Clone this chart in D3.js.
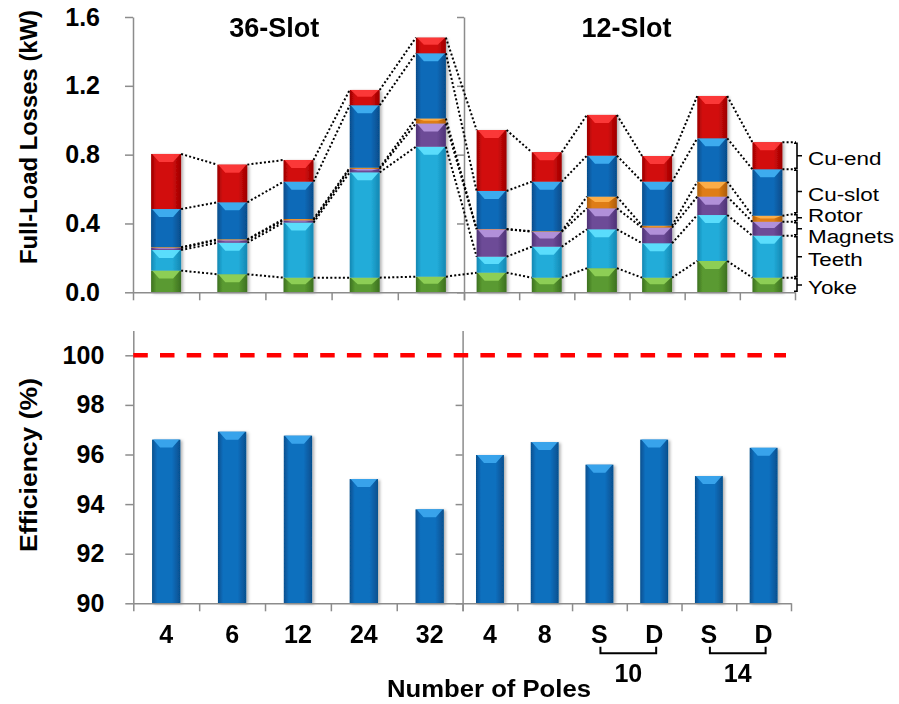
<!DOCTYPE html>
<html>
<head>
<meta charset="utf-8">
<script src="https://cdn.jsdelivr.net/npm/d3@7"></script>
<style>
  body { margin: 0; background: #fff; }
  text { font-family: "Liberation Sans", Arial, sans-serif; fill: #000; }
</style>
</head>
<body>
<svg id="chart" width="899" height="704"></svg>
<script>
// pole counts on the x axis
var poles36 = ["4", "6", "12", "24", "32"];
var poles12 = ["4", "8", "S", "D", "S", "D"];
var pairs12 = [{label: "10", from: 2, to: 3}, {label: "14", from: 4, to: 5}];

// full-load losses (kW), 36-slot bars then 12-slot bars
var lossKeys = ["Yoke", "Teeth", "Magnets", "Rotor", "Cu-slot", "Cu-end"];
var yoke    = [0.126, 0.105, 0.085, 0.085, 0.091, 0.114, 0.085, 0.140, 0.085, 0.182, 0.085];
var teeth   = [0.120, 0.183, 0.320, 0.612, 0.755, 0.093, 0.180, 0.226, 0.200, 0.267, 0.244];
var magnets = [0.012, 0.015, 0.013, 0.020, 0.135, 0.159, 0.087, 0.122, 0.091, 0.107, 0.081];
var rotor   = [0.004, 0.005, 0.008, 0.007, 0.029, 0.002, 0.003, 0.068, 0.011, 0.087, 0.035];
var cuSlot  = [0.222, 0.215, 0.217, 0.363, 0.379, 0.221, 0.288, 0.238, 0.256, 0.252, 0.270];
var cuEnd   = [0.320, 0.219, 0.126, 0.089, 0.091, 0.354, 0.171, 0.237, 0.149, 0.246, 0.157];

// efficiency (%)
var efficiency = [96.6, 96.92, 96.76, 95.01, 93.79, 95.98, 96.5, 95.59, 96.6, 95.13, 96.27];

var lossTicks = [0, 0.4, 0.8, 1.2, 1.6];
var effTicks = [90, 92, 94, 96, 98, 100];

var colors = {
  "Yoke":    {base: "#5a9a30", light: "#92d45a", dark: "#3c7020"},
  "Teeth":   {base: "#22acd9", light: "#60e2ff", dark: "#1487b2"},
  "Magnets": {base: "#6d4b97", light: "#b898e0", dark: "#4e3276"},
  "Rotor":   {base: "#df7d14", light: "#ffb24c", dark: "#ad5c08"},
  "Cu-slot": {base: "#0a6ab8", light: "#42b2f4", dark: "#064c8a"},
  "Cu-end":  {base: "#d20c0c", light: "#ff3c3c", dark: "#9c0000"}
};
var effColor = {base: "#0a6fbe", light: "#3ea8f0", dark: "#064f8e"};

var svg = d3.select("#chart");
var defs = svg.append("defs");

function makeGrad(id, c) {
  var gr = defs.append("linearGradient").attr("id", id)
    .attr("x1", "0").attr("x2", "1").attr("y1", "0").attr("y2", "0");
  gr.append("stop").attr("offset", "0").attr("stop-color", c.dark);
  gr.append("stop").attr("offset", "0.18").attr("stop-color", c.base);
  gr.append("stop").attr("offset", "0.7").attr("stop-color", c.base);
  gr.append("stop").attr("offset", "1").attr("stop-color", c.dark);
}
lossKeys.forEach(function(k, i) { makeGrad("g" + i, colors[k]); });
makeGrad("geff", effColor);

// soft shadow behind the bars
defs.append("filter").attr("id", "shadow").attr("x", "-20%").attr("y", "-5%").attr("width", "150%").attr("height", "115%")
  .append("feDropShadow").attr("dx", 2).attr("dy", 1).attr("stdDeviation", 1.6)
  .attr("flood-color", "#000").attr("flood-opacity", 0.3);

// bevelled block like the excel bars
function block(g, x, y0, y1, w, gradId, c) {
  var h = y1 - y0;
  if (h <= 0.2) return;
  g.append("rect").attr("x", x).attr("y", y0).attr("width", w).attr("height", h)
    .attr("fill", "url(#" + gradId + ")");
  var bh = Math.min(8, h * 0.45);
  g.append("path")
    .attr("d", "M" + (x + 1) + "," + y0 + "H" + (x + w - 1) + "L" + (x + w - 8) + "," + (y0 + bh) + "H" + (x + 8) + "Z")
    .attr("fill", c.light).attr("opacity", 0.9);
}

var axisColor = "#8c8c8c";
function styleAxis(g) {
  g.selectAll("path, line").attr("stroke", axisColor).attr("stroke-width", 1.5);
  g.attr("font-family", null).attr("font-size", null);
  g.selectAll("text").attr("font-size", 25).attr("font-weight", "bold").attr("fill", "#000");
}

// ---------- top chart: losses ----------
var yLoss = d3.scaleLinear().domain([0, 1.6]).range([292.3, 17]);
var xTop36 = d3.scaleBand().domain(d3.range(5)).range([133, 464]).paddingInner(0.547).paddingOuter(0.2735);
var xTop12 = d3.scaleBand().domain(d3.range(6)).range([464, 795]).paddingInner(0.457).paddingOuter(0.2285);

var rows = d3.range(11).map(function(i) {
  return {"Yoke": yoke[i], "Teeth": teeth[i], "Magnets": magnets[i], "Rotor": rotor[i], "Cu-slot": cuSlot[i], "Cu-end": cuEnd[i]};
});
var series = d3.stack().keys(lossKeys)(rows);

var topBars = d3.range(11).map(function(i) {
  return i < 5 ? {x: xTop36(i), w: xTop36.bandwidth()} : {x: xTop12(i - 5), w: xTop12.bandwidth()};
});

var topG = svg.append("g");
var topBarsG = topG.append("g").attr("filter", "url(#shadow)");
series.forEach(function(s, k) {
  s.forEach(function(d, i) {
    block(topBarsG, topBars[i].x, yLoss(d[1]), yLoss(d[0]), topBars[i].w, "g" + k, colors[lossKeys[k]]);
  });
});

// axes
topG.append("g").attr("transform", "translate(133,0)")
  .call(d3.axisLeft(yLoss).tickValues(lossTicks).tickFormat(d3.format(".1f")).tickSize(8).tickPadding(25).tickSizeOuter(0))
  .call(styleAxis);
topG.append("g").attr("transform", "translate(464,0)")
  .call(d3.axisLeft(yLoss).tickValues(lossTicks).tickFormat("").tickSize(7).tickSizeOuter(0))
  .call(styleAxis);
topG.append("g").attr("transform", "translate(0,292.3)")
  .call(d3.axisBottom(d3.scaleLinear().domain([0, 5]).range([133, 464])).tickValues(d3.range(6)).tickFormat("").tickSize(8).tickSizeOuter(0))
  .call(styleAxis);
topG.append("g").attr("transform", "translate(0,292.3)")
  .call(d3.axisBottom(d3.scaleLinear().domain([0, 6]).range([464, 795])).tickValues(d3.range(7)).tickFormat("").tickSize(8).tickSizeOuter(0))
  .call(styleAxis);

// dotted connectors between bars
var dots = svg.append("g").attr("stroke", "#000").attr("stroke-width", 2)
  .attr("stroke-dasharray", "2,2.2").attr("fill", "none");
series.forEach(function(s) {
  for (var i = 0; i < 10; i++) {
    dots.append("line")
      .attr("x1", topBars[i].x + topBars[i].w).attr("y1", yLoss(s[i][1]))
      .attr("x2", topBars[i + 1].x).attr("y2", yLoss(s[i + 1][1]));
  }
});

// bracket legend beside the last bar
var last = topBars[10];
var bx = 797;
var bounds = [yLoss(0)];
series.forEach(function(s, k) {
  var yb = yLoss(s[10][1]);
  bounds.push(Math.min(yb, bounds[k] - 8));
  dots.append("line")
    .attr("x1", last.x + last.w).attr("y1", yb)
    .attr("x2", bx - 1).attr("y2", bounds[k + 1]);
});

// label baselines next to each notch, spread apart where they collide
var legItems = lossKeys.map(function(key, k) {
  var t = bounds[k + 1], b = bounds[k];
  return {key: key, t: t, b: b, mid: (t + b) / 2, y: (t + b) / 2 + 9.5};
}).reverse();
for (var it = 0; it < 60; it++) {
  for (var j = 0; j < legItems.length - 1; j++) {
    var gap = legItems[j + 1].y - legItems[j].y;
    if (gap < 21) {
      legItems[j].y -= (21 - gap) / 2;
      legItems[j + 1].y += (21 - gap) / 2;
    }
  }
}
var leg = svg.append("g");
legItems.forEach(function(d) {
  leg.append("path")
    .attr("d", "M" + (bx - 3) + "," + (d.t + 1) + "H" + bx + "V" + (d.b - 1) + "H" + (bx - 3) +
               "M" + bx + "," + d.mid + "H" + (bx + 5))
    .attr("fill", "none").attr("stroke", "#000").attr("stroke-width", 1.6);
  leg.append("text").attr("transform", "translate(808," + d.y + ") scale(1.18,1)")
    .attr("font-size", 19).text(d.key);
});

// panel titles
svg.append("text").attr("x", 274.3).attr("y", 36.7).attr("text-anchor", "middle")
  .attr("font-size", 27).attr("font-weight", "bold").text("36-Slot");
svg.append("text").attr("x", 626.4).attr("y", 36.7).attr("text-anchor", "middle")
  .attr("font-size", 27).attr("font-weight", "bold").text("12-Slot");

svg.append("text").attr("transform", "translate(37,137) rotate(-90)").attr("text-anchor", "middle")
  .attr("font-size", 24).attr("font-weight", "bold")
  .attr("textLength", 254).attr("lengthAdjust", "spacingAndGlyphs")
  .text("Full-Load Losses  (kW)");

// ---------- bottom chart: efficiency ----------
var yEff = d3.scaleLinear().domain([90, 101]).range([603.3, 330.5]);
var xBot36 = d3.scaleBand().domain(d3.range(5)).range([133.3, 462.6]).paddingInner(0.57).paddingOuter(0.285);
var xBot12 = d3.scaleBand().domain(d3.range(6)).range([462.6, 791]).paddingInner(0.49).paddingOuter(0.245);

var botBars = d3.range(11).map(function(i) {
  return i < 5 ? {x: xBot36(i), w: xBot36.bandwidth()} : {x: xBot12(i - 5), w: xBot12.bandwidth()};
});

var botG = svg.append("g");
var botBarsG = botG.append("g").attr("filter", "url(#shadow)");
efficiency.forEach(function(v, i) {
  block(botBarsG, botBars[i].x, yEff(v), yEff(90), botBars[i].w, "geff", effColor);
});

botG.append("g").attr("transform", "translate(133.3,0)")
  .call(d3.axisLeft(yEff).tickValues(effTicks).tickSize(8).tickPadding(21).tickSizeOuter(0))
  .call(styleAxis);
botG.append("g").attr("transform", "translate(462.6,0)")
  .call(d3.axisLeft(yEff).tickValues(effTicks).tickFormat("").tickSize(7).tickSizeOuter(0))
  .call(styleAxis);
botG.append("g").attr("transform", "translate(0,603.3)")
  .call(d3.axisBottom(d3.scaleLinear().domain([0, 5]).range([133.3, 462.6])).tickValues(d3.range(6)).tickFormat("").tickSize(8).tickSizeOuter(0))
  .call(styleAxis);
botG.append("g").attr("transform", "translate(0,603.3)")
  .call(d3.axisBottom(d3.scaleLinear().domain([0, 6]).range([462.6, 791])).tickValues(d3.range(7)).tickFormat("").tickSize(8).tickSizeOuter(0))
  .call(styleAxis);

// 100 % reference line
botG.append("line").attr("x1", 133.3).attr("x2", 786).attr("y1", yEff(100)).attr("y2", yEff(100))
  .attr("stroke", "#ff0000").attr("stroke-width", 4.5).attr("stroke-dasharray", "14.5,12.2");

// pole labels
var labels = poles36.concat(poles12);
labels.forEach(function(t, i) {
  svg.append("text").attr("x", botBars[i].x + botBars[i].w / 2).attr("y", 643)
    .attr("text-anchor", "middle").attr("font-size", 25).attr("font-weight", "bold").text(t);
});
pairs12.forEach(function(p) {
  var x1 = botBars[5 + p.from].x + botBars[5 + p.from].w / 2 + 1;
  var x2 = botBars[5 + p.to].x + botBars[5 + p.to].w / 2 + 2;
  svg.append("path").attr("d", "M" + x1 + ",646.7V653.3H" + x2 + "V646.7")
    .attr("fill", "none").attr("stroke", "#000").attr("stroke-width", 2);
  svg.append("text").attr("x", (x1 + x2) / 2).attr("y", 681.7).attr("text-anchor", "middle")
    .attr("font-size", 25).attr("font-weight", "bold").text(p.label);
});

svg.append("text").attr("x", 489).attr("y", 697).attr("text-anchor", "middle")
  .attr("font-size", 23).attr("font-weight", "bold")
  .attr("textLength", 204).attr("lengthAdjust", "spacingAndGlyphs")
  .text("Number of Poles");

svg.append("text").attr("transform", "translate(37,465) rotate(-90)").attr("text-anchor", "middle")
  .attr("font-size", 24).attr("font-weight", "bold")
  .attr("textLength", 174).attr("lengthAdjust", "spacingAndGlyphs")
  .text("Efficiency  (%)");
</script>
</body>
</html>
